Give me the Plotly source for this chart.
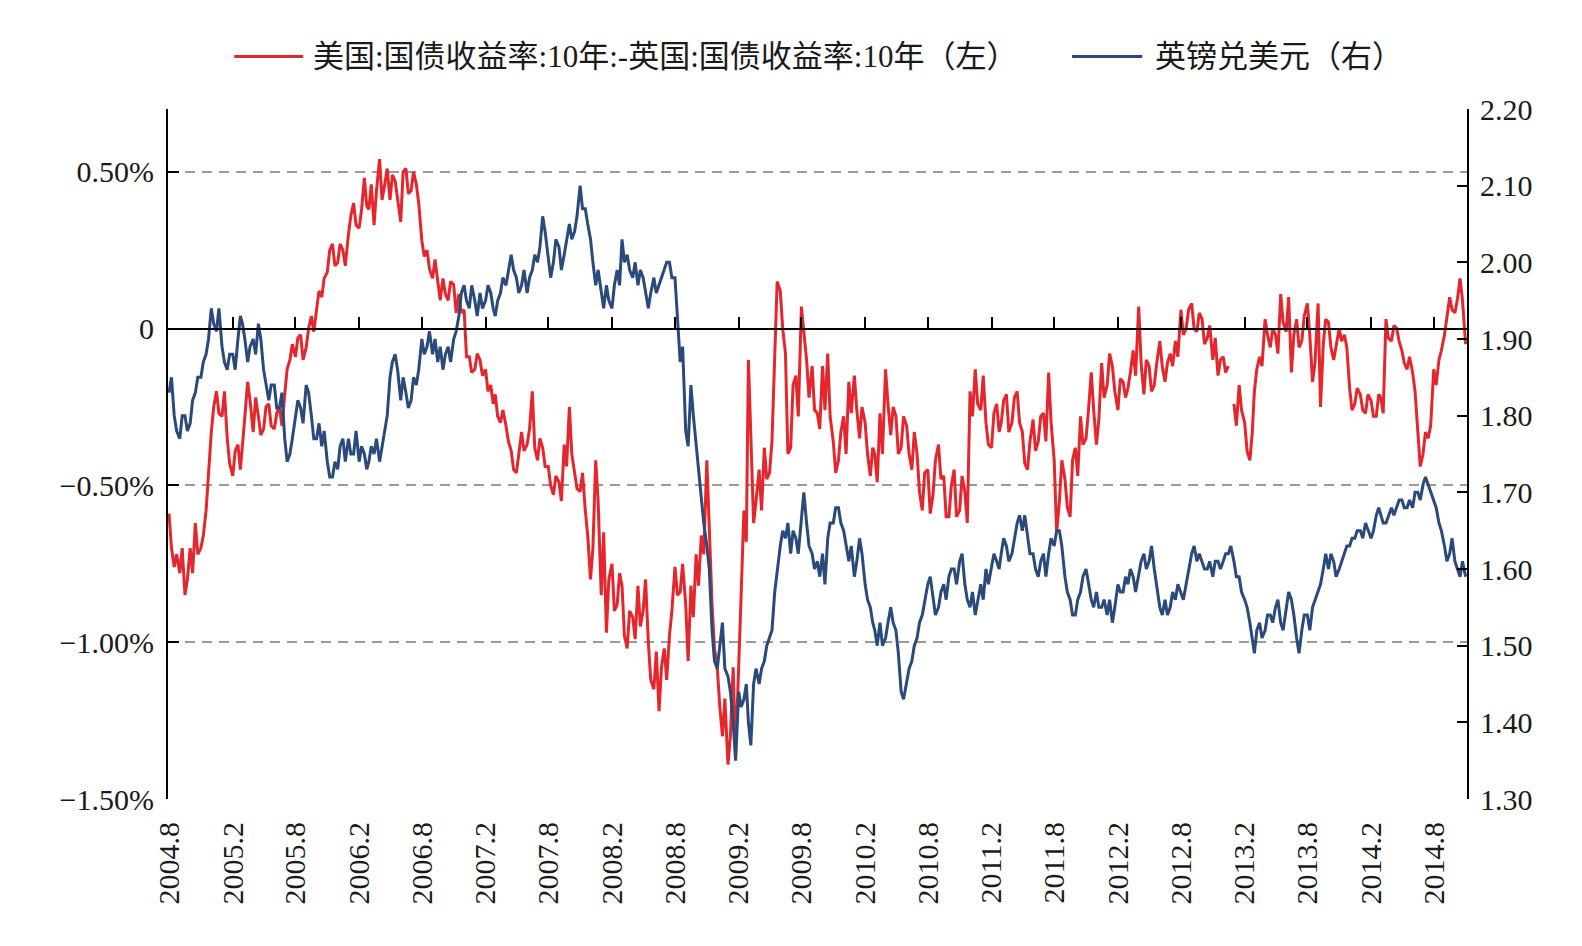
import pandas as pd
import plotly.graph_objects as go

# ---------------- data ----------------
x_tick_labels = ["2004.8", "2005.2", "2005.8", "2006.2", "2006.8", "2007.2", "2007.8",
                 "2008.2", "2008.8", "2009.2", "2009.8", "2010.2", "2010.8", "2011.2",
                 "2011.8", "2012.2", "2012.8", "2013.2", "2013.8", "2014.2", "2014.8"]
left_tick_vals = [-1.5, -1.0, -0.5, 0.0, 0.5]
left_tick_text = ["\u22121.50%", "\u22121.00%", "\u22120.50%", "0", "0.50%"]
right_tick_vals = [1.3, 1.4, 1.5, 1.6, 1.7, 1.8, 1.9, 2.0, 2.1, 2.2]
right_tick_text = ["1.30", "1.40", "1.50", "1.60", "1.70", "1.80", "1.90", "2.00", "2.10", "2.20"]

red_name = "美国:国债收益率:10年:-英国:国债收益率:10年（左）"
blue_name = "英镑兑美元（右）"

# US 10y minus UK 10y yield spread, %, four readings per month (1st, 8th, 16th, 23rd)
us_uk_spread = [
    # 2004 Aug-Dec
    -0.59, -0.70, -0.76, -0.72,  -0.78, -0.70, -0.85, -0.80,  -0.70, -0.78, -0.62, -0.72,
    -0.70, -0.66, -0.58, -0.45,  -0.33, -0.25, -0.20, -0.27,
    # 2005
    -0.28, -0.20, -0.35, -0.43,  -0.47, -0.39, -0.37, -0.45,  -0.38, -0.28, -0.17, -0.23,
    -0.33, -0.22, -0.28, -0.34,  -0.32, -0.25, -0.24, -0.31,  -0.32, -0.27, -0.25, -0.31,
    -0.21, -0.13, -0.10, -0.05,  -0.09, -0.03, -0.02, -0.10,  -0.06, 0.00, 0.04, -0.01,
    0.06, 0.12, 0.10, 0.16,  0.18, 0.25, 0.27, 0.20,  0.21, 0.27, 0.25, 0.20,
    # 2006
    0.30, 0.36, 0.40, 0.33,  0.32, 0.38, 0.48, 0.39,  0.38, 0.46, 0.33, 0.44,
    0.54, 0.41, 0.46, 0.51,  0.41, 0.49, 0.47, 0.41,  0.34, 0.50, 0.51, 0.43,
    0.44, 0.50, 0.46, 0.40,  0.28, 0.23, 0.25, 0.19,  0.16, 0.22, 0.14, 0.09,
    0.16, 0.11, 0.09, 0.15,  0.14, 0.05, 0.11, 0.05,  0.06, -0.09, -0.09, -0.14,
    # 2007
    -0.13, -0.08, -0.10, -0.15,  -0.13, -0.20, -0.18, -0.24,  -0.21, -0.28, -0.30, -0.26,
    -0.31, -0.36, -0.39, -0.45,  -0.46, -0.40, -0.33, -0.39,  -0.37, -0.32, -0.20, -0.38,
    -0.42, -0.35, -0.38, -0.44,  -0.44, -0.50, -0.53, -0.47,  -0.49, -0.55, -0.37, -0.44,
    -0.25, -0.40, -0.46, -0.51,  -0.52, -0.46, -0.58, -0.66,  -0.80, -0.70, -0.42, -0.55,
    # 2008
    -0.85, -0.65, -0.97, -0.80,  -0.75, -0.90, -0.88, -0.78,  -0.82, -0.98, -1.02, -0.90,
    -0.92, -0.99, -0.82, -0.95,  -0.90, -0.80, -1.00, -1.12,  -1.15, -1.03, -1.22, -1.08,
    -1.02, -1.12, -0.98, -0.90,  -0.76, -0.85, -0.84, -0.75,  -0.88, -1.06, -0.82, -0.92,
    -0.72, -0.82, -0.66, -0.72,  -0.42, -0.65, -0.88, -1.02,  -1.08, -1.20, -1.30, -1.18,
    # 2009
    -1.39, -1.30, -1.08, -1.36,  -1.10, -0.85, -0.58, -0.68,  -0.10, -0.35, -0.62, -0.55,
    -0.45, -0.58, -0.38, -0.48,  -0.46, -0.36, -0.10, 0.15,  0.12, 0.00, -0.08, -0.40,
    -0.38, -0.18, -0.15, -0.28,  0.07, 0.00, -0.10, -0.22,  -0.12, -0.26, -0.27, -0.32,
    -0.12, -0.26, -0.08, -0.28,  -0.36, -0.46, -0.42, -0.33,  -0.28, -0.40, -0.17, -0.27,
    # 2010
    -0.15, -0.26, -0.35, -0.25,  -0.30, -0.40, -0.47, -0.38,  -0.40, -0.49, -0.27, -0.40,
    -0.13, -0.24, -0.34, -0.25,  -0.28, -0.40, -0.38, -0.28,  -0.31, -0.40, -0.45, -0.33,
    -0.40, -0.52, -0.58, -0.46,  -0.45, -0.59, -0.53, -0.42,  -0.37, -0.48, -0.47, -0.60,
    -0.60, -0.50, -0.45, -0.60,  -0.58, -0.47, -0.52, -0.62,  -0.20, -0.28, -0.13, -0.24,
    # 2011
    -0.26, -0.15, -0.30, -0.37,  -0.38, -0.27, -0.24, -0.33,  -0.30, -0.23, -0.21, -0.33,
    -0.30, -0.22, -0.20, -0.30,  -0.33, -0.43, -0.45, -0.36,  -0.29, -0.39, -0.36, -0.28,
    -0.27, -0.36, -0.14, -0.30,  -0.42, -0.65, -0.55, -0.42,  -0.48, -0.57, -0.60, -0.42,
    -0.38, -0.47, -0.28, -0.37,  -0.35, -0.26, -0.14, -0.26,  -0.37, -0.29, -0.11, -0.22,
    # 2012
    -0.18, -0.08, -0.12, -0.20,  -0.26, -0.16, -0.17, -0.22,  -0.19, -0.14, -0.07, -0.15,
    0.07, -0.11, -0.21, -0.10,  -0.12, -0.20, -0.18, -0.11,  -0.04, -0.12, -0.17, -0.11,
    -0.08, -0.12, -0.04, -0.09,  0.06, -0.02, 0.00, 0.06,  0.08, 0.00, -0.01, 0.05,
    0.03, -0.05, -0.03, 0.01,  -0.10, -0.03, -0.15, -0.10,  -0.09, -0.14, -0.12, None,
    # 2013
    -0.24, -0.31, -0.18, -0.26,  -0.30, -0.39, -0.42, -0.33,  -0.20, -0.13, -0.09, -0.12,
    0.03, -0.02, -0.06, 0.00,  -0.02, -0.08, 0.11, 0.02,  -0.01, 0.10, -0.14, -0.02,
    0.03, -0.06, -0.04, 0.04,  0.08, -0.02, -0.17, -0.11,  0.08, -0.25, -0.05, 0.03,
    0.02, -0.06, -0.10, -0.06,  0.00, -0.04, -0.02, -0.06,  -0.19, -0.26, -0.24, -0.19,
    # 2014 Jan-Nov
    -0.21, -0.26, -0.27, -0.21,  -0.23, -0.28, -0.28, -0.21,  -0.22, -0.27, 0.03, -0.03,
    -0.04, 0.01, 0.00, -0.04,  -0.07, -0.11, -0.13, -0.09,  -0.14, -0.20, -0.34, -0.44,
    -0.40, -0.33, -0.35, -0.31,  -0.13, -0.18, -0.10, -0.07,  -0.02, 0.03, 0.10, 0.06,
    0.05, 0.09, 0.16, 0.09,  -0.05,
]

# GBP/USD, four readings per month (1st, 8th, 16th, 23rd)
gbp_usd = [
    # 2004 Aug-Dec
    1.83, 1.85, 1.80, 1.78,  1.77, 1.80, 1.80, 1.78,  1.79, 1.82, 1.83, 1.85,
    1.85, 1.87, 1.88, 1.90,  1.94, 1.92, 1.91, 1.94,
    # 2005
    1.89, 1.87, 1.86, 1.88,  1.88, 1.86, 1.90, 1.93,  1.92, 1.90, 1.87, 1.89,
    1.90, 1.88, 1.92, 1.90,  1.86, 1.84, 1.82, 1.84,  1.84, 1.81, 1.81, 1.83,
    1.77, 1.74, 1.75, 1.77,  1.80, 1.82, 1.81, 1.79,  1.84, 1.83, 1.80, 1.77,
    1.77, 1.79, 1.76, 1.78,  1.74, 1.72, 1.72, 1.74,  1.73, 1.76, 1.77, 1.74,
    # 2006
    1.77, 1.75, 1.75, 1.78,  1.74, 1.76, 1.75, 1.73,  1.74, 1.76, 1.75, 1.77,
    1.74, 1.76, 1.78, 1.80,  1.85, 1.87, 1.88, 1.86,  1.82, 1.85, 1.83, 1.81,
    1.82, 1.85, 1.84, 1.86,  1.90, 1.88, 1.89, 1.91,  1.88, 1.90, 1.87, 1.89,
    1.86, 1.88, 1.89, 1.87,  1.90, 1.91, 1.93, 1.96,  1.97, 1.95, 1.94, 1.97,
    # 2007
    1.95, 1.93, 1.96, 1.94,  1.95, 1.97, 1.96, 1.94,  1.93, 1.95, 1.96, 1.98,
    1.97, 1.99, 2.01, 1.99,  1.98, 1.96, 1.97, 1.99,  1.96, 1.98, 1.99, 2.01,
    2.00, 2.02, 2.06, 2.04,  2.01, 1.98, 2.00, 2.03,  2.02, 1.99, 2.01, 2.03,
    2.05, 2.03, 2.04, 2.06,  2.10, 2.07, 2.07, 2.05,  2.03, 2.00, 1.97, 1.99,
    # 2008
    1.96, 1.94, 1.97, 1.95,  1.94, 1.97, 1.99, 1.97,  2.03, 2.00, 2.01, 1.99,
    1.98, 2.00, 1.97, 1.99,  1.98, 1.96, 1.94, 1.96,  1.98, 1.96, 1.97, 1.98,
    1.99, 2.00, 2.00, 1.98,  1.98, 1.92, 1.87, 1.89,  1.78, 1.76, 1.84, 1.80,
    1.76, 1.73, 1.69, 1.66,  1.63, 1.60, 1.52, 1.48,  1.47, 1.50, 1.53, 1.47,
    # 2009
    1.46, 1.44, 1.40, 1.35,  1.44, 1.42, 1.43, 1.45,  1.40, 1.37, 1.45, 1.47,
    1.45, 1.47, 1.48, 1.50,  1.51, 1.52, 1.57, 1.60,  1.63, 1.65, 1.64, 1.66,
    1.62, 1.65, 1.64, 1.62,  1.67, 1.70, 1.66, 1.63,  1.62, 1.60, 1.61, 1.59,
    1.62, 1.58, 1.64, 1.66,  1.66, 1.68, 1.68, 1.66,  1.65, 1.63, 1.61, 1.63,
    # 2010
    1.59, 1.61, 1.64, 1.62,  1.58, 1.56, 1.55, 1.53,  1.52, 1.50, 1.53, 1.50,
    1.51, 1.53, 1.55, 1.53,  1.52, 1.49, 1.44, 1.43,  1.45, 1.47, 1.48, 1.50,
    1.51, 1.53, 1.54, 1.56,  1.58, 1.59, 1.56, 1.54,  1.55, 1.57, 1.58, 1.56,
    1.59, 1.60, 1.60, 1.58,  1.61, 1.62, 1.58, 1.56,  1.55, 1.57, 1.54, 1.56,
    # 2011
    1.58, 1.56, 1.60, 1.58,  1.60, 1.62, 1.61, 1.60,  1.62, 1.64, 1.63, 1.61,
    1.62, 1.64, 1.66, 1.67,  1.65, 1.67, 1.64, 1.62,  1.62, 1.60, 1.59, 1.61,
    1.62, 1.59, 1.62, 1.64,  1.63, 1.65, 1.65, 1.63,  1.59, 1.57, 1.56, 1.54,
    1.54, 1.56, 1.57, 1.59,  1.60, 1.58, 1.56, 1.55,  1.57, 1.55, 1.55, 1.56,
    # 2012
    1.54, 1.56, 1.53, 1.55,  1.58, 1.57, 1.57, 1.59,  1.58, 1.60, 1.59, 1.57,
    1.59, 1.61, 1.62, 1.60,  1.61, 1.63, 1.60, 1.58,  1.55, 1.54, 1.56, 1.54,
    1.55, 1.57, 1.56, 1.58,  1.57, 1.56, 1.58, 1.60,  1.62, 1.63, 1.61, 1.62,
    1.61, 1.60, 1.60, 1.61,  1.59, 1.61, 1.61, 1.60,  1.61, 1.62, 1.62, 1.63,
    # 2013
    1.61, 1.59, 1.59, 1.57,  1.56, 1.55, 1.53, 1.51,  1.49, 1.52, 1.53, 1.51,
    1.52, 1.54, 1.54, 1.53,  1.55, 1.56, 1.53, 1.52,  1.55, 1.57, 1.56, 1.54,
    1.51, 1.49, 1.52, 1.54,  1.54, 1.52, 1.55, 1.56,  1.57, 1.58, 1.60, 1.62,
    1.60, 1.62, 1.61, 1.59,  1.60, 1.61, 1.62, 1.63,  1.63, 1.64, 1.64, 1.65,
    # 2014 Jan-Nov
    1.65, 1.64, 1.66, 1.65,  1.64, 1.65, 1.67, 1.68,  1.67, 1.66, 1.66, 1.67,
    1.68, 1.67, 1.68, 1.69,  1.69, 1.68, 1.68, 1.69,  1.68, 1.70, 1.70, 1.69,
    1.71, 1.72, 1.71, 1.70,  1.69, 1.68, 1.66, 1.65,  1.63, 1.61, 1.62, 1.64,
    1.61, 1.60, 1.59, 1.61,  1.59,
]

# observation dates: 1st, 8th, 16th, 23rd of each month, Aug 2004 .. Oct 2014, then 1 Nov 2014
month_starts = pd.date_range("2004-08-01", "2014-10-01", freq="MS")
dates = [m + pd.Timedelta(days=d) for m in month_starts for d in (0, 7, 15, 22)]
dates.append(pd.Timestamp("2014-11-01"))

tick_dates = [pd.Timestamp(int(s.split(".")[0]), int(s.split(".")[1]), 1) for s in x_tick_labels]

# ---------------- styling ----------------
RED = "#E5262C"
BLUE = "#2B4A7C"
FONT = "Liberation Serif, 'Noto Sans CJK SC', serif"
TXT = "#1a1a1a"
X_RANGE = ["2004-07-29", "2014-11-05"]

fig = go.Figure()
fig.add_trace(go.Scatter(x=dates, y=us_uk_spread, mode="lines", name=red_name,
                         line=dict(color=RED, width=3), connectgaps=False,
                         xaxis="x", yaxis="y"))
fig.add_trace(go.Scatter(x=dates, y=gbp_usd, mode="lines", name=blue_name,
                         line=dict(color=BLUE, width=3),
                         xaxis="x2", yaxis="y2"))

fig.update_layout(
    width=1582, height=946,
    margin=dict(l=168, r=115, t=109, b=147),
    paper_bgcolor="white", plot_bgcolor="white",
    font=dict(family=FONT, size=30, color=TXT),
    showlegend=False,
    xaxis=dict(type="date", range=X_RANGE,
               tickmode="array", tickvals=tick_dates, ticktext=x_tick_labels,
               tickangle=-90, ticks="", showline=False, showgrid=False, zeroline=False,
               ticklabelstandoff=16, tickfont=dict(size=30)),
    xaxis2=dict(type="date", range=X_RANGE, overlaying="x", anchor="free",
                position=1.5 / 2.2, side="top",
                tickmode="array", tickvals=tick_dates[1:], ticks="outside",
                ticklen=11, tickwidth=2, tickcolor="black", showticklabels=False,
                showline=True, linecolor="black", linewidth=2,
                showgrid=False, zeroline=False),
    yaxis=dict(range=[-1.5, 0.7], tickmode="array", tickvals=left_tick_vals,
               ticktext=left_tick_text, ticks="inside", ticklen=11, tickwidth=2,
               tickcolor="black", showline=True, linecolor="black", linewidth=2,
               showgrid=True, gridcolor="#9a9a9a", gridwidth=1.5, griddash="10px,7px",
               zeroline=True, zerolinecolor="black", zerolinewidth=2,
               ticklabelstandoff=6),
    yaxis2=dict(range=[1.3, 2.2], overlaying="y", side="right", anchor="x",
                tickmode="array", tickvals=right_tick_vals, ticktext=right_tick_text,
                ticks="inside", ticklen=10, tickwidth=2, tickcolor="black",
                showline=True, linecolor="black", linewidth=2,
                showgrid=False, zeroline=False, ticklabelstandoff=5),
)

# legend (drawn as line swatches + text above the plot)
legend_y = 1.076
fig.add_shape(type="line", xref="paper", yref="paper", x0=0.051, x1=0.104,
              y0=legend_y, y1=legend_y, line=dict(color=RED, width=3))
fig.add_annotation(xref="paper", yref="paper", x=0.110, y=legend_y, text=red_name,
                   showarrow=False, xanchor="left", yanchor="middle",
                   font=dict(family=FONT, size=31, color=TXT))
fig.add_shape(type="line", xref="paper", yref="paper", x0=0.696, x1=0.750,
              y0=legend_y, y1=legend_y, line=dict(color=BLUE, width=3))
fig.add_annotation(xref="paper", yref="paper", x=0.758, y=legend_y, text=blue_name,
                   showarrow=False, xanchor="left", yanchor="middle",
                   font=dict(family=FONT, size=31, color=TXT))

fig.write_html("out.html")
